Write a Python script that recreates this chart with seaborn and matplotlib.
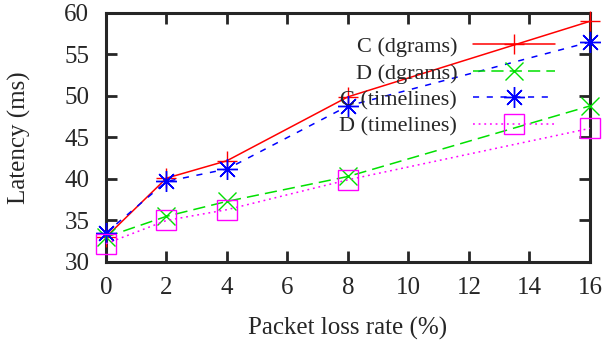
import numpy as np
import pandas as pd
import seaborn as sns
import matplotlib.pyplot as plt

loss_rate = [0, 2, 4, 8, 16]
c_dgrams = [33.0, 40.1, 42.2, 49.9, 59.0]
d_dgrams = [33.0, 35.5, 37.3, 40.3, 48.8]
c_timelines = [33.5, 39.7, 41.2, 48.8, 56.5]
d_timelines = [32.2, 35.0, 36.3, 39.9, 46.1]
labels = ['C (dgrams)', 'D (dgrams)', 'C (timelines)', 'D (timelines)']

sns.set_style('ticks')
plt.rcParams['font.family'] = ['Liberation Serif', 'DejaVu Serif']

fig = plt.figure(figsize=(6.02, 3.42), dpi=100)
ax = fig.add_axes([0.176, 0.234, 0.804, 0.728])

# colour, marker, dash pattern (None = solid), marker size
styles = [
    ('#ff0000', '+', None, 15),
    ('#00e000', 'x', (8, 4), 13),
    ('#0000ff', (8, 2, 0), (4, 5), 15),
    ('#ff00ff', 's', (1.2, 2.5), 14),
]
series = [c_dgrams, d_dgrams, c_timelines, d_timelines]

for vals, lab, (col, mk, dsh, ms) in zip(series, labels, styles):
    df = pd.DataFrame({'x': loss_rate, 'y': vals})
    sns.lineplot(data=df, x='x', y='y', ax=ax, label=lab, color=col,
                 marker=mk, markersize=ms, markerfacecolor='none',
                 markeredgecolor=col, markeredgewidth=1.0, linewidth=1.1,
                 clip_on=False, zorder=3)
    if dsh is not None:
        ax.lines[-1].set_dashes(dsh)

ax.set_xlim(0, 16)
ax.set_ylim(30, 60)
ax.set_xticks(range(0, 17, 2))
ax.set_yticks(range(30, 61, 5))
ax.tick_params(direction='in', length=8, width=2, top=True, right=True,
               labelsize=18)
ax.tick_params(axis='x', pad=11)
ax.tick_params(axis='y', pad=12)
for s in ax.spines.values():
    s.set_linewidth(2.2)
ax.set_xlabel('Packet loss rate (%)', fontsize=18)
ax.set_ylabel('Latency (ms)', fontsize=18)
ax.xaxis.set_label_coords(0.5, -0.22)
ax.yaxis.set_label_coords(-0.155, 0.5)

leg = ax.legend(loc='upper right', bbox_to_anchor=(555 / 602, 0.893),
                bbox_transform=fig.transFigure, frameon=False, markerfirst=False,
                handlelength=3.7, handletextpad=0.7, labelspacing=0.27,
                borderpad=0, borderaxespad=0, fontsize=16)
leg._legend_box.align = 'right'
leg.set_zorder(5)

fig.savefig('out.png', dpi=100)
